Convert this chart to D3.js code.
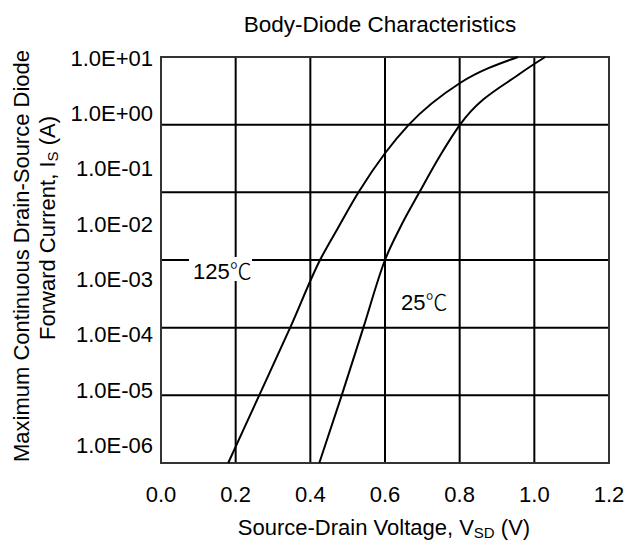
<!DOCTYPE html>
<html>
<head>
<meta charset="utf-8">
<script src="https://cdn.jsdelivr.net/npm/d3@7"></script>
<style>
  body { margin: 0; background: #fff; }
  text { font-family: "Liberation Sans", Arial, sans-serif; fill: #000; }
  .deg { font-family: "Noto Sans CJK SC", "DejaVu Sans", sans-serif; font-weight: 300; }
</style>
</head>
<body>
<div id="chart"></div>
<script>
// values
const xTicks = [0, 0.2, 0.4, 0.6, 0.8, 1.0, 1.2];
const yTickLabels = ["1.0E+01", "1.0E+00", "1.0E-01", "1.0E-02", "1.0E-03", "1.0E-04", "1.0E-05", "1.0E-06"];

// 125 C curve: source-drain voltage (V) and current (A)
const v125 = [0.180, 0.263, 0.346, 0.426, 0.474, 0.529, 0.600, 0.664, 0.801, 0.956];
const i125 = [1e-5, 1e-4, 1e-3, 1e-2, 0.0297, 1e-1, 0.378, 1.0, 4.13, 10];

// 25 C curve
const v25 = [0.424, 0.484, 0.542, 0.600, 0.640, 0.692, 0.747, 0.801, 0.962, 1.029];
const i25 = [1e-5, 1e-4, 1e-3, 1e-2, 0.0297, 1e-1, 0.344, 1.0, 5.70, 10];

const full_width = 635, full_height = 545;
const margin = {top: 57, right: 26, bottom: 82, left: 161};
const width = full_width - margin.left - margin.right;
const height = full_height - margin.top - margin.bottom;

const svg = d3.select("#chart").append("svg")
  .attr("width", full_width)
  .attr("height", full_height);

const x = d3.scaleLinear().domain([0, 1.2]).range([margin.left, margin.left + width]);
const y = d3.scaleLog().domain([1e-5, 10]).range([margin.top + height, margin.top]);

// tick labels are evenly spread and don't sit on the grid lines (as in the original)
const yLab = d3.scalePoint().domain(yTickLabels).range([58, 445]);

// grid
const decades = y.ticks().filter(t => Math.abs(Math.log10(t) - Math.round(Math.log10(t))) < 1e-9);
const grid = svg.append("g").attr("stroke", "#000").attr("stroke-width", 2);
grid.selectAll("line.v").data(xTicks).enter().append("line")
  .attr("x1", d => x(d)).attr("x2", d => x(d))
  .attr("y1", margin.top).attr("y2", margin.top + height);
grid.selectAll("line.h").data(decades).enter().append("line")
  .attr("y1", d => y(d)).attr("y2", d => y(d))
  .attr("x1", margin.left).attr("x2", margin.left + width);

svg.append("rect")
  .attr("x", margin.left).attr("y", margin.top)
  .attr("width", width).attr("height", height)
  .attr("fill", "none").attr("stroke", "#333").attr("stroke-width", 2);

// curves
const line = d3.line()
  .x(d => x(d[0]))
  .y(d => y(d[1]))
  .curve(d3.curveMonotoneX);

[[v125, i125], [v25, i25]].forEach(([vs, is]) => {
  svg.append("path")
    .datum(vs.map((v, k) => [v, is[k]]))
    .attr("d", line)
    .attr("fill", "none")
    .attr("stroke", "#000")
    .attr("stroke-width", 2);
});

// curve labels
svg.append("rect")
  .attr("x", 189).attr("y", 257).attr("width", 63).attr("height", 24)
  .attr("fill", "#fff");
const lab125 = svg.append("text").attr("x", 193).attr("y", 279).attr("font-size", 22);
lab125.append("tspan").text("125");
lab125.append("tspan").attr("class", "deg").text("℃");

const lab25 = svg.append("text").attr("x", 401).attr("y", 310).attr("font-size", 22);
lab25.append("tspan").text("25");
lab25.append("tspan").attr("class", "deg").text("℃");

// x tick labels
svg.append("g").selectAll("text").data(xTicks).enter().append("text")
  .attr("x", d => x(d)).attr("y", 502)
  .attr("text-anchor", "middle").attr("font-size", 22)
  .text(d => d3.format(".1f")(d));

// y tick labels
svg.append("g").selectAll("text").data(yTickLabels).enter().append("text")
  .attr("x", 153).attr("y", d => yLab(d)).attr("dy", "0.36em")
  .attr("text-anchor", "end").attr("font-size", 22)
  .text(d => d);

// title
svg.append("text")
  .attr("x", 380).attr("y", 32)
  .attr("text-anchor", "middle").attr("font-size", 22.5)
  .text("Body-Diode Characteristics");

// x axis title
const xt = svg.append("text")
  .attr("x", 384).attr("y", 535)
  .attr("text-anchor", "middle").attr("font-size", 22);
xt.append("tspan").text("Source-Drain Voltage, V");
xt.append("tspan").attr("font-size", 15).attr("dy", 3).text("SD");
xt.append("tspan").attr("dy", -3).text(" (V)");

// y axis title, two lines
svg.append("text")
  .attr("transform", "translate(29,256) rotate(-90)")
  .attr("text-anchor", "middle").attr("font-size", 22)
  .text("Maximum Continuous Drain-Source Diode");
const yt = svg.append("text")
  .attr("transform", "translate(55,228) rotate(-90)")
  .attr("text-anchor", "middle").attr("font-size", 22);
yt.append("tspan").text("Forward Current, I");
yt.append("tspan").attr("font-size", 15).attr("dy", 3).text("S");
yt.append("tspan").attr("dy", -3).text(" (A)");
</script>
</body>
</html>
